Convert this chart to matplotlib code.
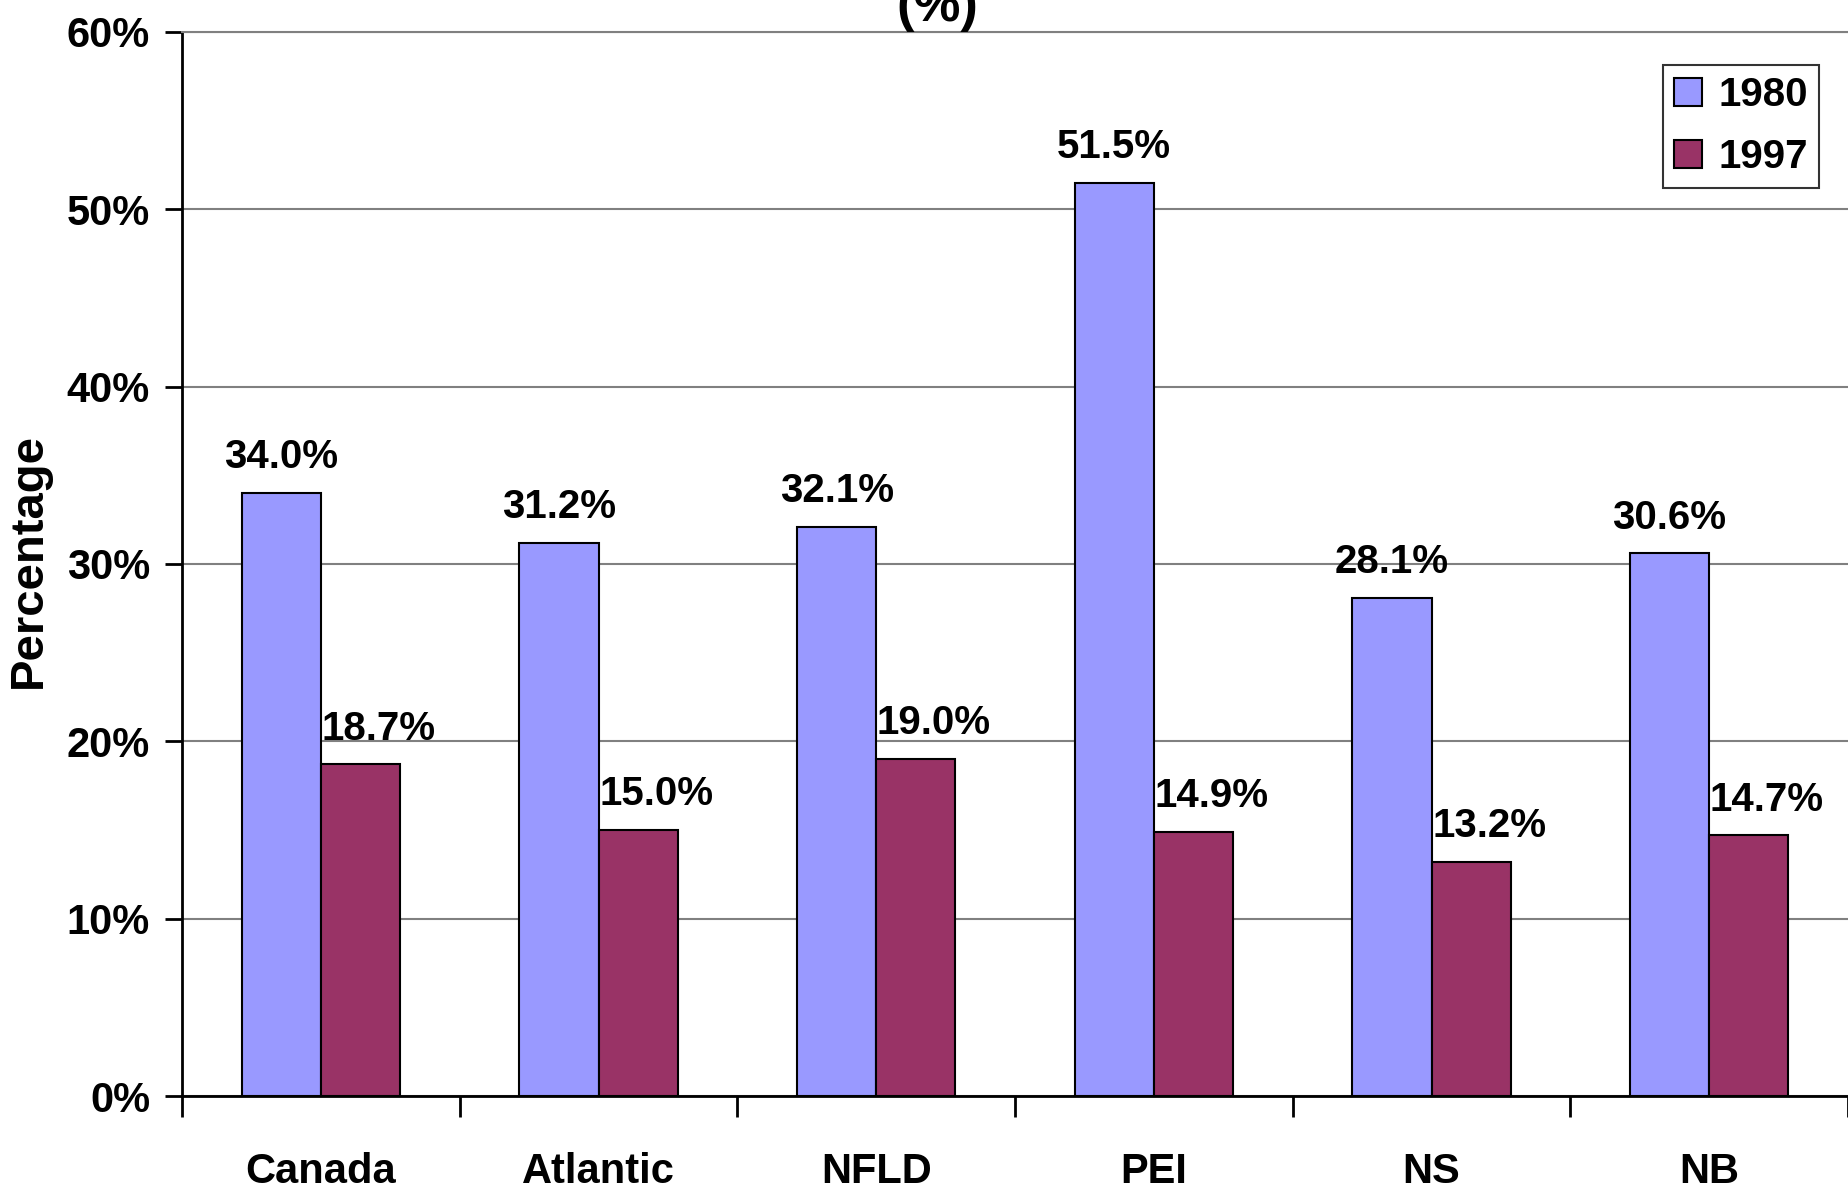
import matplotlib
matplotlib.use("Agg")
import matplotlib.pyplot as plt
import numpy as np
from matplotlib.ticker import FixedLocator, FuncFormatter

plt.rcParams['font.family'] = ['Liberation Sans', 'DejaVu Sans']
plt.rcParams['font.weight'] = 'bold'

categories = ["Canada", "Atlantic", "NFLD", "PEI", "NS", "NB"]
series_names = ["1980", "1997"]
values_1980 = [34.0, 31.2, 32.1, 51.5, 28.1, 30.6]
values_1997 = [18.7, 15.0, 19.0, 14.9, 13.2, 14.7]
y_ticks = [0, 10, 20, 30, 40, 50, 60]

color_1980 = "#9999FF"
color_1997 = "#993366"

fig = plt.figure(figsize=(18.48, 11.93), dpi=100)
ax = fig.add_axes([0.0985, 0.0813, 0.9015, 0.8919])

x = np.arange(len(categories))
bw = 0.285
ax.bar(x - bw / 2, values_1980, bw, color=color_1980, edgecolor="black",
       linewidth=1.5, label=series_names[0], zorder=3)
ax.bar(x + bw / 2, values_1997, bw, color=color_1997, edgecolor="black",
       linewidth=1.5, label=series_names[1], zorder=3)

for xi, v in zip(x, values_1980):
    ax.annotate(f"{v:.1f}%", (xi - bw / 2, v), xytext=(0, 12),
                textcoords="offset points", ha="center", va="bottom",
                fontsize=29, fontweight="bold")
for xi, v in zip(x, values_1997):
    ax.annotate(f"{v:.1f}%", (xi + bw / 2, v), xytext=(13, 12),
                textcoords="offset points", ha="center", va="bottom",
                fontsize=29, fontweight="bold")

ax.set_xlim(-0.5, len(categories) - 0.5)
ax.set_ylim(0, 60)
ax.set_yticks(y_ticks)
ax.yaxis.set_major_formatter(FuncFormatter(lambda v, p: f"{v:.0f}%"))
ax.yaxis.grid(True, color="#808080", linewidth=1.5, zorder=0)
ax.tick_params(axis="y", direction="out", length=12, width=2, pad=11,
               labelsize=30, colors="black")

ax.set_xticks(x)
ax.set_xticklabels(categories, fontsize=30, fontweight="bold")
ax.tick_params(axis="x", which="major", length=0, pad=40)
ax.xaxis.set_minor_locator(FixedLocator(np.arange(-0.5, len(categories), 1.0)))
ax.tick_params(axis="x", which="minor", direction="out", length=15, width=2)

for s in ("left", "bottom"):
    ax.spines[s].set_linewidth(2)
    ax.spines[s].set_color("black")
ax.spines["top"].set_color("#808080")
ax.spines["top"].set_linewidth(1.5)
ax.spines["right"].set_visible(False)

ax.set_ylabel("Percentage", fontsize=34, fontweight="bold")
ax.yaxis.set_label_coords(-0.079, 0.503)

leg = ax.legend(loc="upper right", bbox_to_anchor=(0.9826, 0.969), fontsize=29,
                frameon=True, fancybox=False, edgecolor="black",
                handlelength=0.7, handleheight=0.7, handletextpad=0.4,
                borderpad=0.28, labelspacing=0.6, borderaxespad=0)
leg.get_frame().set_linewidth(1.5)
for t in leg.get_texts():
    t.set_fontweight("bold")

fig.text(0.507, 0.973, "(%)", ha="center", va="bottom", fontsize=38,
         fontweight="bold")

fig.savefig("out.png", dpi=100, facecolor="white")
